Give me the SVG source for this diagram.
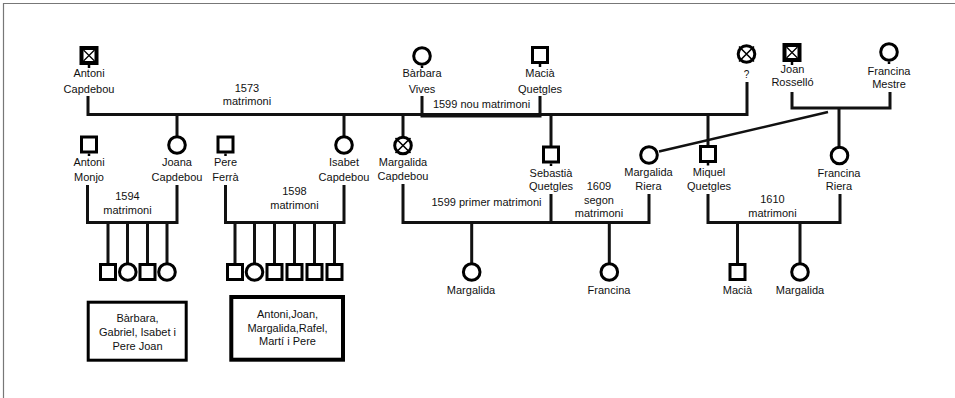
<svg xmlns="http://www.w3.org/2000/svg" width="955" height="398" viewBox="0 0 955 398">
<style>
  .sq{fill:#fff;stroke:#000;stroke-width:3}
  .ci{fill:#fff;stroke:#000;stroke-width:3}
  .xsq{fill:#fff;stroke:#000;stroke-width:4}
  .x{stroke:#000;stroke-width:1.3;fill:none}
  .stub{stroke:#000;stroke-width:2.5;fill:none}
  .ln{fill:none;stroke:#111;stroke-width:3;stroke-linejoin:miter}
  .box{fill:#fff;stroke:#000}
  text{font-family:"Liberation Sans",Arial,sans-serif;font-size:11px;fill:#111;text-anchor:middle}
</style>
<rect width="955" height="398" fill="#fff"/>
<path d="M3.5 398 V3.5 H955" fill="none" stroke="#777" stroke-width="1.2"/>

<g id="connectors">
  <path class="ln" d="M88 96 V114.5 H747 V82"/>
  <path class="ln" d="M422 96 V116 H540 V96"/>
  <path class="ln" d="M177 114.5 V137"/>
  <path class="ln" d="M344 114.5 V137"/>
  <path class="ln" d="M403 114.5 V137"/>
  <path class="ln" d="M551 114.5 V147"/>
  <path class="ln" d="M708 114.5 V146"/>
  <path class="ln" d="M792 92 V108 H890 V92"/>
  <path class="ln" d="M839 108 V147"/>
  <path class="ln" d="M828 112 L659 151.5" style="stroke-width:2.5"/>
  <path class="ln" d="M87.5 185 V222.5 H177 V185"/>
  <path class="ln" d="M108 222.5 V264 M127.5 222.5 V264 M147.5 222.5 V264 M167 222.5 V264"/>
  <path class="ln" d="M225.5 185 V222.5 H344 V185"/>
  <path class="ln" d="M235 222.5 V264 M254.5 222.5 V264 M274.5 222.5 V264 M294.5 222.5 V264 M314.5 222.5 V264 M334.5 222.5 V264"/>
  <path class="ln" d="M403 184 V222.5 H649 V194"/>
  <path class="ln" d="M551 194 V222.5"/>
  <path class="ln" d="M471.7 222.5 V264 M609.3 222.5 V264"/>
  <path class="ln" d="M708 194 V222.5 H840 V194"/>
  <path class="ln" d="M737.5 222.5 V264 M800 222.5 V264"/>
</g>

<g id="antoni-capdebou">
  <rect class="xsq" x="81.5" y="48" width="15" height="15"/>
  <path class="x" d="M83.5 50 L94.5 61 M94.5 50 L83.5 61"/>
  <path class="stub" d="M89 65 V68"/>
  <text x="89" y="77">Antoni</text>
  <text x="89" y="93">Capdebou</text>
</g>
<g id="label-1573">
  <text x="247" y="91.5">1573</text>
  <text x="247" y="105">matrimoni</text>
</g>
<g id="barbara-vives">
  <circle class="ci" cx="422" cy="56" r="8.3"/>
  <path class="stub" d="M422 65.5 V68"/>
  <text x="422" y="77">Bàrbara</text>
  <text x="422" y="93">Vives</text>
</g>
<g id="macia-quetgles">
  <rect class="sq" x="532.5" y="47.5" width="15" height="15"/>
  <path class="stub" d="M540 64 V67"/>
  <text x="540" y="77">Macià</text>
  <text x="540" y="93">Quetgles</text>
</g>
<g id="label-1599-nou">
  <text x="481.5" y="108">1599 nou matrimoni</text>
</g>
<g id="unknown">
  <circle class="ci" cx="746.5" cy="54" r="8.3"/>
  <path class="x" d="M739 46.5 L754 61.5 M754 46.5 L739 61.5" style="stroke-width:1.6"/>
  <text x="746.5" y="78" style="font-size:10px">?</text>
</g>
<g id="joan-rossello">
  <rect class="xsq" x="784.5" y="45" width="15" height="15"/>
  <path class="x" d="M786.5 47 L797.5 58 M797.5 47 L786.5 58"/>
  <path class="stub" d="M792 62 V65"/>
  <text x="792.5" y="72.5">Joan</text>
  <text x="792.5" y="86">Rosselló</text>
</g>
<g id="francina-mestre">
  <circle class="ci" cx="889" cy="52" r="8.3"/>
  <path class="stub" d="M889 61.5 V64"/>
  <text x="889" y="74.5">Francina</text>
  <text x="889" y="88">Mestre</text>
</g>

<g id="antoni-monjo">
  <rect class="sq" x="81.5" y="137" width="15" height="15"/>
  <path class="stub" d="M89 153.5 V156"/>
  <text x="89" y="166">Antoni</text>
  <text x="89" y="181">Monjo</text>
</g>
<g id="joana-capdebou">
  <circle class="ci" cx="177" cy="145" r="8.3"/>
  <text x="177" y="166">Joana</text>
  <text x="177" y="181">Capdebou</text>
</g>
<g id="label-1594">
  <text x="127.5" y="200">1594</text>
  <text x="127.5" y="213.5">matrimoni</text>
</g>
<g id="pere-ferra">
  <rect class="sq" x="218" y="137" width="15" height="15"/>
  <path class="stub" d="M225.5 153.5 V156"/>
  <text x="225.5" y="166">Pere</text>
  <text x="225.5" y="181">Ferrà</text>
</g>
<g id="isabet-capdebou">
  <circle class="ci" cx="344" cy="145" r="8.3"/>
  <text x="344" y="166">Isabet</text>
  <text x="344" y="181">Capdebou</text>
</g>
<g id="label-1598">
  <text x="294.5" y="195">1598</text>
  <text x="294.5" y="208.5">matrimoni</text>
</g>
<g id="margalida-capdebou">
  <circle class="ci" cx="403" cy="145.5" r="8.3"/>
  <path class="x" d="M395.5 138 L410.5 153 M410.5 138 L395.5 153" style="stroke-width:1.6"/>
  <text x="403" y="166">Margalida</text>
  <text x="403" y="180">Capdebou</text>
</g>
<g id="sebastia-quetgles">
  <rect class="sq" x="543.5" y="147" width="15" height="15"/>
  <path class="stub" d="M551 163.5 V166"/>
  <text x="551" y="176.5">Sebastià</text>
  <text x="551" y="190">Quetgles</text>
</g>
<g id="label-1599-primer">
  <text x="486.5" y="206">1599 primer matrimoni</text>
</g>
<g id="label-1609">
  <text x="599" y="190">1609</text>
  <text x="599" y="204">segon</text>
  <text x="599" y="217">matrimoni</text>
</g>
<g id="margalida-riera">
  <circle class="ci" cx="649" cy="155" r="8.3"/>
  <text x="648.5" y="175.5">Margalida</text>
  <text x="648.5" y="190">Riera</text>
</g>
<g id="miquel-quetgles">
  <rect class="sq" x="700.5" y="146.5" width="15" height="15"/>
  <path class="stub" d="M708 163 V165.5"/>
  <text x="709" y="175.5">Miquel</text>
  <text x="709" y="190">Quetgles</text>
</g>
<g id="francina-riera">
  <circle class="ci" cx="839.5" cy="155.5" r="8.3"/>
  <text x="839" y="177">Francina</text>
  <text x="839" y="190">Riera</text>
</g>
<g id="label-1610">
  <text x="772.5" y="203">1610</text>
  <text x="772.5" y="216.5">matrimoni</text>
</g>

<g id="children-1594">
  <rect class="sq" x="100.5" y="264.5" width="15" height="15"/>
  <circle class="ci" cx="127.8" cy="272" r="8.3"/>
  <rect class="sq" x="140" y="264.5" width="15" height="15"/>
  <circle class="ci" cx="167" cy="272" r="8.3"/>
</g>
<g id="children-1598">
  <rect class="sq" x="227.5" y="264.5" width="15" height="15"/>
  <circle class="ci" cx="254.5" cy="272" r="8.3"/>
  <rect class="sq" x="267" y="264.5" width="15" height="15"/>
  <rect class="sq" x="287" y="264.5" width="15" height="15"/>
  <rect class="sq" x="307" y="264.5" width="15" height="15"/>
  <rect class="sq" x="327" y="264.5" width="15" height="15"/>
</g>
<g id="box-1594">
  <rect class="box" x="88.2" y="302.2" width="98" height="58" stroke-width="3"/>
  <text x="137.5" y="322">Bàrbara,</text>
  <text x="137.5" y="335.5">Gabriel, Isabet i</text>
  <text x="137.5" y="349.5">Pere Joan</text>
</g>
<g id="box-1598">
  <rect class="box" x="231.3" y="297" width="111.7" height="62.7" stroke-width="4"/>
  <text x="287.5" y="318">Antoni,Joan,</text>
  <text x="287.5" y="332">Margalida,Rafel,</text>
  <text x="287.5" y="345">Martí i Pere</text>
</g>
<g id="margalida-child">
  <circle class="ci" cx="471.7" cy="272" r="8.3"/>
  <text x="471" y="294">Margalida</text>
</g>
<g id="francina-child">
  <circle class="ci" cx="609.3" cy="272" r="8.3"/>
  <text x="609" y="294">Francina</text>
</g>
<g id="macia-child">
  <rect class="sq" x="730" y="264.5" width="15" height="15"/>
  <text x="737.5" y="294">Macià</text>
</g>
<g id="margalida-child-2">
  <circle class="ci" cx="800" cy="272" r="8.3"/>
  <text x="800" y="294">Margalida</text>
</g>
</svg>
